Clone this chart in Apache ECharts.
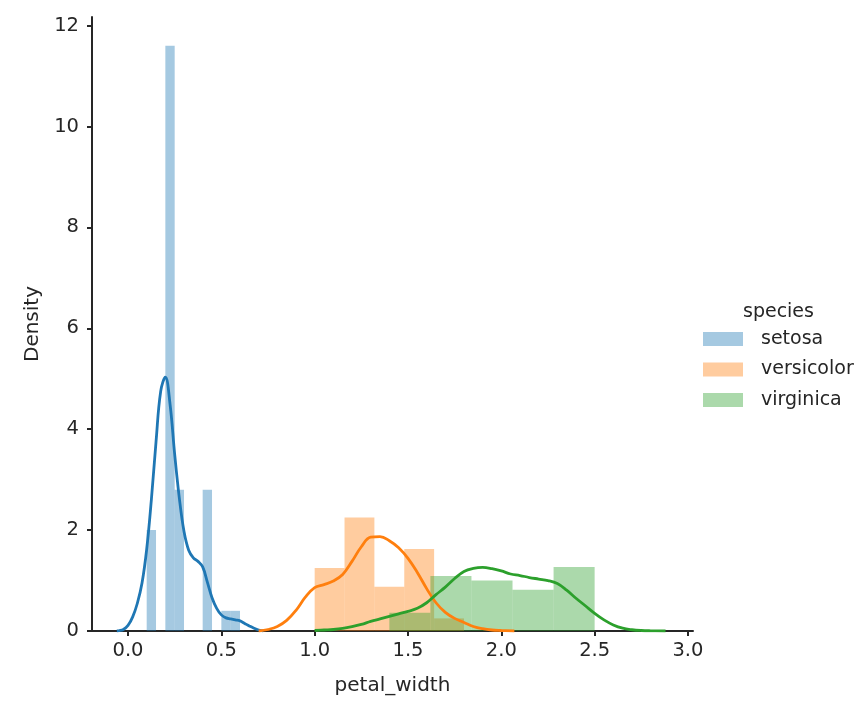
<!DOCTYPE html>
<html>
<head>
<meta charset="utf-8">
<title>petal_width density</title>
<script src="https://cdn.jsdelivr.net/npm/echarts@6.0.0/dist/echarts.min.js"></script>
<style>
    html, body { margin: 0; padding: 0; background: #fff; }
    #chart { width: 865px; height: 714px; }
</style>
</head>
<body>
<div id="chart"></div>
<script>
    // histogram bins (edges) and densities
    var setosaEdges = [0.1, 0.15, 0.2, 0.25, 0.3, 0.35, 0.4, 0.45, 0.5, 0.55, 0.6];
    var setosaDensity = [2.0, 0, 11.6, 2.8, 0, 0, 2.8, 0, 0.4, 0.4];
    var versicolorEdges = [1.0, 1.16, 1.32, 1.48, 1.64, 1.8];
    var versicolorDensity = [1.25, 2.25, 0.875, 1.625, 0.25];
    var virginicaEdges = [1.4, 1.62, 1.84, 2.06, 2.28, 2.5];
    var virginicaDensity = [0.364, 1.09, 1.0, 0.818, 1.27];

    // kde curves, points
    var setosaKdeX = [-0.06, -0.05, -0.025, 0, 0.025, 0.05, 0.075, 0.1, 0.125, 0.15, 0.175, 0.2, 0.225, 0.25, 0.275, 0.3, 0.325, 0.35, 0.375, 0.4, 0.425, 0.45, 0.475, 0.5, 0.525, 0.55, 0.575, 0.6, 0.625, 0.65, 0.675, 0.7, 0.725];
    var setosaKdeY = [0, 0.005, 0.03, 0.11, 0.28, 0.55, 0.95, 1.62, 2.6, 3.75, 4.75, 5.03, 4.5, 3.5, 2.63, 1.97, 1.6, 1.45, 1.38, 1.27, 0.97, 0.66, 0.45, 0.32, 0.26, 0.24, 0.22, 0.2, 0.15, 0.1, 0.055, 0.02, 0];
    var versicolorKdeX = [0.7, 0.75, 0.8, 0.85, 0.9, 0.95, 1.0, 1.05, 1.1, 1.15, 1.2, 1.25, 1.3, 1.35, 1.4, 1.45, 1.5, 1.55, 1.6, 1.65, 1.7, 1.75, 1.8, 1.85, 1.9, 1.95, 2.0, 2.07];
    var versicolorKdeY = [0, 0.03, 0.09, 0.21, 0.41, 0.67, 0.86, 0.92, 0.99, 1.12, 1.38, 1.67, 1.86, 1.87, 1.79, 1.65, 1.44, 1.16, 0.84, 0.56, 0.37, 0.25, 0.17, 0.09, 0.045, 0.02, 0.01, 0];
    var virginicaKdeX = [1.0, 1.05, 1.1, 1.15, 1.2, 1.25, 1.3, 1.35, 1.4, 1.45, 1.5, 1.55, 1.6, 1.65, 1.7, 1.75, 1.8, 1.85, 1.9, 1.95, 2.0, 2.05, 2.1, 2.15, 2.2, 2.25, 2.3, 2.35, 2.4, 2.45, 2.5, 2.55, 2.6, 2.65, 2.7, 2.75, 2.8, 2.88];
    var virginicaKdeY = [0.01, 0.02, 0.03, 0.05, 0.085, 0.13, 0.19, 0.24, 0.29, 0.34, 0.39, 0.45, 0.56, 0.72, 0.87, 1.04, 1.18, 1.24, 1.26, 1.235, 1.19, 1.13, 1.10, 1.06, 1.03, 1.0, 0.94, 0.81, 0.65, 0.5, 0.35, 0.22, 0.12, 0.055, 0.025, 0.01, 0.004, 0];

    var species = ['setosa', 'versicolor', 'virginica'];
    var xTicks = [0, 0.5, 1.0, 1.5, 2.0, 2.5, 3.0];
    var yTicks = [0, 2, 4, 6, 8, 10, 12];

    var lineColors = ['#1f77b4', '#ff7f0e', '#2ca02c'];
    var barColors = ['rgba(31,119,180,0.4)', 'rgba(255,127,14,0.4)', 'rgba(44,160,44,0.4)'];
    var textColor = '#262626';
    var font = 'DejaVu Sans';

    function binData(edges, dens) {
        var out = [];
        for (var i = 0; i < dens.length; i++) {
            out.push([edges[i], edges[i + 1], dens[i]]);
        }
        return out;
    }

    function pairs(xs, ys) {
        var out = [];
        for (var i = 0; i < xs.length; i++) {
            out.push([xs[i], ys[i]]);
        }
        return out;
    }

    function renderBin(params, api) {
        var h = api.value(2);
        if (!h) {
            return;
        }
        var p0 = api.coord([api.value(0), h]);
        var p1 = api.coord([api.value(1), 0]);
        return {
            type: 'rect',
            shape: { x: p0[0], y: p0[1], width: p1[0] - p0[0], height: p1[1] - p0[1] },
            style: { fill: barColors[params.seriesIndex / 2] }
        };
    }

    var hists = [
        binData(setosaEdges, setosaDensity),
        binData(versicolorEdges, versicolorDensity),
        binData(virginicaEdges, virginicaDensity)
    ];
    var kdes = [
        pairs(setosaKdeX, setosaKdeY),
        pairs(versicolorKdeX, versicolorKdeY),
        pairs(virginicaKdeX, virginicaKdeY)
    ];

    var series = [];
    for (var s = 0; s < species.length; s++) {
        series.push({
            name: species[s],
            type: 'custom',
            renderItem: renderBin,
            itemStyle: { color: barColors[s] },
            encode: { x: [0, 1], y: 2 },
            data: hists[s]
        });
        series.push({
            name: species[s] + ' kde',
            type: 'line',
            smooth: 0.4,
            showSymbol: false,
            lineStyle: { color: lineColors[s], width: 2.8 },
            itemStyle: { color: lineColors[s] },
            data: kdes[s]
        });
    }

    var chart = echarts.init(document.getElementById('chart'));

    var option = {
        animation: false,
        textStyle: { fontFamily: font },
        grid: {
            left: 92,
            right: 172,
            top: 17,
            bottom: 83
        },
        title: {
            text: 'species',
            left: 743,
            top: 303,
            padding: 0,
            textStyle: { fontFamily: font, fontSize: 19, fontWeight: 'normal', color: textColor }
        },
        legend: {
            orient: 'vertical',
            left: 703,
            top: 329.5,
            padding: 0,
            icon: 'rect',
            itemWidth: 40,
            itemHeight: 14,
            itemGap: 11.5,
            textStyle: { fontFamily: font, fontSize: 19, color: textColor, padding: [0, 0, 0, 13] },
            data: [
                { name: 'setosa', itemStyle: { color: barColors[0] } },
                { name: 'versicolor', itemStyle: { color: barColors[1] } },
                { name: 'virginica', itemStyle: { color: barColors[2] } }
            ]
        },
        xAxis: {
            type: 'value',
            min: -0.193,
            max: 3.027,
            name: 'petal_width',
            nameLocation: 'middle',
            nameGap: 45,
            nameTextStyle: { fontFamily: font, fontSize: 20, color: textColor },
            splitLine: { show: false },
            axisLine: { onZero: false, lineStyle: { color: textColor, width: 2 } },
            axisTick: { show: true, length: 5, lineStyle: { color: textColor, width: 2 }, customValues: xTicks },
            axisLabel: {
                customValues: xTicks,
                margin: 10,
                fontFamily: font,
                fontSize: 19.5,
                color: textColor,
                formatter: function(v) {
                    return v.toFixed(1);
                }
            }
        },
        yAxis: {
            type: 'value',
            min: 0,
            max: 12.17,
            name: 'Density',
            nameLocation: 'middle',
            nameGap: 49,
            nameTextStyle: { fontFamily: font, fontSize: 20, color: textColor },
            splitLine: { show: false },
            axisLine: { show: true, onZero: false, lineStyle: { color: textColor, width: 2 } },
            axisTick: { show: true, length: 5, lineStyle: { color: textColor, width: 2 }, customValues: yTicks },
            axisLabel: {
                customValues: yTicks,
                margin: 13,
                fontFamily: font,
                fontSize: 19.5,
                color: textColor
            }
        },
        series: series
    };

    chart.setOption(option);
</script>
</body>
</html>
